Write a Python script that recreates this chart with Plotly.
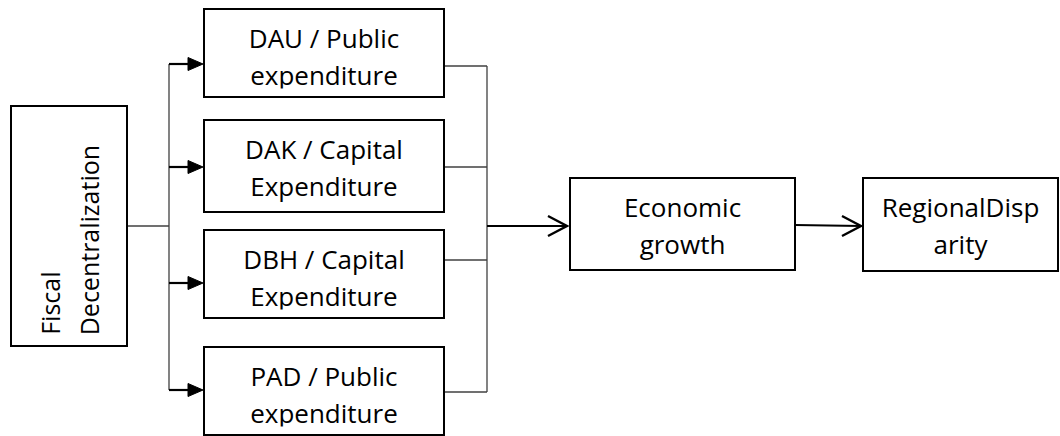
import plotly.graph_objects as go

# ---- content ----
source_lines = ["Fiscal", "Decentralization"]
middle_labels = [
    ["DAU / Public", "expenditure"],
    ["DAK / Capital", "Expenditure"],
    ["DBH / Capital", "Expenditure"],
    ["PAD / Public", "expenditure"],
]
outcome_labels = [
    ["Economic", "growth"],
    ["RegionalDisp", "arity"],
]

# ---- layout geometry (pixels) ----
W, H = 1060, 436
FONT = "Open Sans"
FS = 26
FS_SRC = 25
SRC = dict(x0=11, x1=127, y0=106, y1=346)
SRC_BASELINES_X = [59, 99]
SRC_TEXT_BOTTOM = 337
MID_X0, MID_X1 = 204, 444
MID_Y0 = [9, 120, 230, 347]
MID_Y1 = [97, 212, 318, 435]
IN_Y = [64, 167, 283, 390]
OUT_Y = [66, 167, 260, 392]
SPLIT_X, JOIN_X = 169, 487
FLOW_Y = 226
OUT_BOXES = [dict(x0=570, x1=795, y0=178, y1=270), dict(x0=863, x1=1058, y0=178, y1=271)]
BASE_OFF = [42, 78.5]    # baseline offsets from box top
CLIP_INSET = 8.5         # middle-box text clipped this far above box bottom
MID_SHIFT = 0.35

CONN = dict(color="#404040", width=1.3)
THICK = dict(color="black", width=2.2)
BOXLINE = dict(color="black", width=2)

fig = go.Figure()
shapes = []
annotations = []

# connectors (thin)
shapes.append(dict(type="line", x0=SRC["x1"], x1=SPLIT_X, y0=FLOW_Y, y1=FLOW_Y, line=CONN, layer="below"))
shapes.append(dict(type="line", x0=SPLIT_X, x1=SPLIT_X, y0=IN_Y[0], y1=IN_Y[-1], line=CONN, layer="below"))
for y in OUT_Y:
    shapes.append(dict(type="line", x0=MID_X1, x1=JOIN_X, y0=y, y1=y, line=CONN, layer="below"))
shapes.append(dict(type="line", x0=JOIN_X, x1=JOIN_X, y0=OUT_Y[0], y1=OUT_Y[-1], line=CONN, layer="below"))

# filled arrows into middle boxes
HEAD_L, HEAD_H = 15, 6.5
for y in IN_Y:
    tip = MID_X0 - 1
    shapes.append(dict(type="line", x0=SPLIT_X, x1=tip - HEAD_L + 2, y0=y, y1=y, line=THICK, layer="below"))
    shapes.append(dict(type="path",
                       path=f"M{tip - HEAD_L},{y - HEAD_H} L{tip},{y} L{tip - HEAD_L},{y + HEAD_H} Z",
                       fillcolor="black", line=dict(color="black", width=1), layer="below"))

# open arrows along flow
def open_arrow(x0, y0, x1, y1):
    shapes.append(dict(type="line", x0=x0, x1=x1, y0=y0, y1=y1, line=THICK, layer="below"))
    shapes.append(dict(type="path",
                       path=f"M{x1 - 19},{y1 - 10} L{x1},{y1} L{x1 - 19},{y1 + 10}",
                       line=dict(color="black", width=2.4), layer="below"))

open_arrow(JOIN_X, FLOW_Y, OUT_BOXES[0]["x0"] - 3, FLOW_Y)
open_arrow(OUT_BOXES[0]["x1"], FLOW_Y - 1, OUT_BOXES[1]["x0"] - 2, FLOW_Y)

# text in middle and outcome boxes (scatter text, so masks can clip them)
mid_boxes = [dict(x0=MID_X0, x1=MID_X1, y0=y0, y1=y1) for y0, y1 in zip(MID_Y0, MID_Y1)]
boxes = mid_boxes + OUT_BOXES
labels = middle_labels + outcome_labels
for b, lab in zip(boxes, labels):
    cx = (b["x0"] + b["x1"]) / 2
    ys = [b["y0"] + off - MID_SHIFT * FS for off in BASE_OFF]
    fig.add_trace(go.Scatter(x=[cx] * len(lab), y=ys, text=lab, mode="text",
                             textposition="middle center",
                             textfont=dict(family=FONT, size=FS, color="black"),
                             hoverinfo="skip", showlegend=False, cliponaxis=False))

# clipping masks (text frame of the middle boxes cuts the second line)
for b in mid_boxes:
    shapes.append(dict(type="rect", x0=b["x0"] + 1.5, x1=b["x1"] - 1.5,
                       y0=b["y1"] - CLIP_INSET, y1=b["y1"] - 1,
                       fillcolor="white", line=dict(width=0), layer="above"))

# boxes
for b in [SRC] + boxes:
    shapes.append(dict(type="rect", x0=b["x0"], x1=b["x1"], y0=b["y0"], y1=b["y1"],
                       line=BOXLINE, fillcolor="rgba(0,0,0,0)", layer="above"))

# rotated source label
for bx, txt in zip(SRC_BASELINES_X, source_lines):
    annotations.append(dict(x=bx - 0.388 * FS_SRC, y=SRC_TEXT_BOTTOM, xref="x", yref="y",
                            text=txt, textangle=-90, showarrow=False,
                            xanchor="center", yanchor="bottom",
                            font=dict(family=FONT, size=FS_SRC, color="black")))

fig.update_layout(
    width=W, height=H, margin=dict(l=0, r=0, t=0, b=0),
    paper_bgcolor="white", plot_bgcolor="white",
    xaxis=dict(range=[0, W], visible=False, fixedrange=True),
    yaxis=dict(range=[H, 0], visible=False, fixedrange=True),
    shapes=shapes, annotations=annotations, showlegend=False,
)

fig.write_html("out.html", config={"displayModeBar": False},
               post_script="document.body.style.margin='0';document.body.style.overflow='hidden';")
